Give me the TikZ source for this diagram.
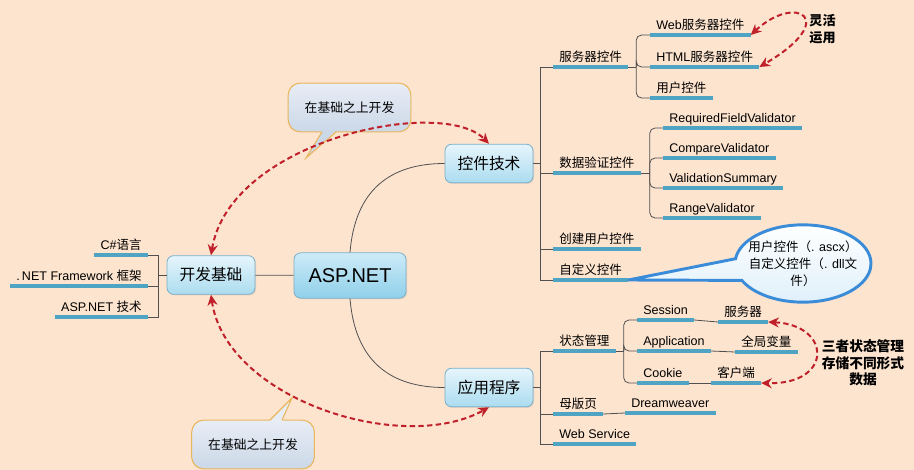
\documentclass[tikz,border=0pt]{standalone}
\usepackage{fontspec}
\setmainfont{Liberation Sans}
\newfontfamily\zhfont{Noto Sans CJK SC}
\usetikzlibrary{arrows.meta,shapes.callouts,shadows}

% chinese characters switch to the CJK font by themselves
\XeTeXinterchartokenstate=1
\newXeTeXintercharclass\zhclass
\newcount\zhc
\zhc="3000 \loop \XeTeXcharclass\zhc=\zhclass \ifnum\zhc<"303F \advance\zhc by 1 \repeat
\zhc="4E00 \loop \XeTeXcharclass\zhc=\zhclass \ifnum\zhc<"9FFF \advance\zhc by 1 \repeat
\zhc="FF00 \loop \XeTeXcharclass\zhc=\zhclass \ifnum\zhc<"FFEF \advance\zhc by 1 \repeat
\XeTeXinterchartoks 0 \zhclass = {\begingroup\zhfont}
\XeTeXinterchartoks 4095 \zhclass = {\begingroup\zhfont}
\XeTeXinterchartoks \zhclass 0 = {\endgroup}
\XeTeXinterchartoks \zhclass 4095 = {\endgroup}

\definecolor{bgpeach}{HTML}{FDE4CF}
\definecolor{topictop}{HTML}{E6F5FC}
\definecolor{topicbot}{HTML}{ABDCEF}
\definecolor{topicline}{HTML}{7AAFC8}
\definecolor{roottop}{HTML}{CDEBF8}
\definecolor{rootbot}{HTML}{8FD0EA}
\definecolor{ulblue}{HTML}{4FA3C3}
\definecolor{conngray}{HTML}{505050}
\definecolor{arrowred}{HTML}{C0202A}
\definecolor{calltop}{HTML}{E8EDF5}
\definecolor{callbot}{HTML}{CBD8E8}
\definecolor{callline}{HTML}{E9B65C}
\definecolor{bubbleline}{HTML}{3A8CD8}
\definecolor{bubblebot}{HTML}{DDEFFA}

\tikzset{
topic/.style={draw=topicline, line width=0.6pt, rounded corners=5pt,
  top color=topictop, bottom color=topicbot, minimum width=66pt,
  minimum height=29pt, font=\fontsize{11.8}{13}\selectfont,
  drop shadow={opacity=0.2, shadow xshift=0.8pt, shadow yshift=-0.8pt}},
leaf/.style={font=\fontsize{9.4}{11}\selectfont, inner xsep=4.5pt,
  inner ysep=1.5pt, text height=7.5pt, text depth=2.5pt},
uline/.style={draw=ulblue, line width=2.6pt},
conn/.style={draw=conngray, line width=0.6pt},
redarrow/.style={draw=arrowred, line width=1.5pt, dash pattern=on 4pt off 2.5pt,
  {Stealth[length=8pt,width=7.5pt]}-{Stealth[length=8pt,width=7.5pt]}},
callbox/.style={draw=callline, line width=0.8pt, rounded corners=9pt,
  top color=calltop, bottom color=callbot, minimum width=92pt,
  minimum height=36.5pt, font=\fontsize{9.6}{11}\selectfont},
note/.style={font=\bfseries\fontsize{9.8}{12.5}\selectfont, align=center}
}

\begin{document}
\begin{tikzpicture}[x=0.75pt,y=-0.75pt]
\useasboundingbox (0,0) rectangle (914,470);
\fill[bgpeach] (0,0) rectangle (914,470);

% topics
\node[topic] (kfjc) at (211,275) {开发基础};
\node[topic, minimum width=84pt, minimum height=34pt, top color=roottop,
  bottom color=rootbot, font=\fontsize{15}{17}\selectfont] (asp) at (350,275.5) {ASP.NET};
\node[topic] (kjjs) at (489,163.5) {控件技术};
\node[topic] (yycx) at (489,387.5) {应用程序};

% leaves
\node[leaf, anchor=south east] (csharp) at (148,255) {C\#语言};
\node[leaf, anchor=south east] (netfw) at (148,286) {.\,NET Framework 框架};
\node[leaf, anchor=south east] (aspjs) at (148,317) {ASP.NET 技术};

\node[leaf, anchor=south west] (fwqkj) at (553,67) {服务器控件};
\node[leaf, anchor=south west] (web) at (650,35) {Web服务器控件};
\node[leaf, anchor=south west] (html) at (650,67) {HTML服务器控件};
\node[leaf, anchor=south west] (yhkj) at (650,98) {用户控件};
\node[leaf, anchor=south west] (sjyz) at (553,173) {数据验证控件};
\node[leaf, anchor=south west] (rfv) at (663,128) {RequiredFieldValidator};
\node[leaf, anchor=south west] (cv) at (663,158) {CompareValidator};
\node[leaf, anchor=south west] (vs) at (663,188) {ValidationSummary};
\node[leaf, anchor=south west] (rv) at (663,218) {RangeValidator};
\node[leaf, anchor=south west] (cjyh) at (553,249) {创建用户控件};
\node[leaf, anchor=south west] (zdy) at (553,280) {自定义控件};

\node[leaf, anchor=south west] (ztgl) at (553,351) {状态管理};
\node[leaf, anchor=south west] (session) at (637,320) {Session};
\node[leaf, anchor=south west] (fwq) at (718,322) {服务器};
\node[leaf, anchor=south west] (app) at (637,351) {Application};
\node[leaf, anchor=south west] (qjbl) at (735,352) {全局变量};
\node[leaf, anchor=south west] (cookie) at (637,383) {Cookie};
\node[leaf, anchor=south west] (khd) at (711,383) {客户端};
\node[leaf, anchor=south west] (mbym) at (553,414) {母版页};
\node[leaf, anchor=south west] (dw) at (625,413) {Dreamweaver};
\node[leaf, anchor=south west] (ws) at (553,444) {Web Service};

% connectors
\draw[conn] (kfjc) -- (asp);
\draw[conn] (kfjc.west) -- ++(-8,0) coordinate (b0);
\foreach \n in {csharp,netfw,aspjs}
  \draw[conn] (b0) |- (\n.south east);
\draw[conn] (asp.north) .. controls +(5,-62) and +(-55,0) .. (kjjs.west);
\draw[conn] (asp.south) .. controls +(5,62) and +(-55,0) .. (yycx.west);

\draw[conn] (kjjs.east) -- ++(7,0) coordinate (b1);
\foreach \n in {fwqkj,sjyz,cjyh,zdy}
  \draw[conn] (b1) |- (\n.south west);
\draw[conn] (fwqkj.south east) -- ++(8,0) coordinate (b2);
\foreach \n in {web,html,yhkj}
  \draw[conn,rounded corners=4pt] (b2) |- (\n.south west);
\draw[conn] (sjyz.south east) -- ++(9,0) coordinate (b3);
\foreach \n in {rfv,cv,vs,rv}
  \draw[conn,rounded corners=4pt] (b3) |- (\n.south west);

\draw[conn] (yycx.east) -- ++(7,0) coordinate (b5);
\foreach \n in {ztgl,mbym,ws}
  \draw[conn] (b5) |- (\n.south west);
\draw[conn] (ztgl.south east) -- ++(8,0) coordinate (b4);
\foreach \n in {session,app,cookie}
  \draw[conn,rounded corners=4pt] (b4) |- (\n.south west);
\draw[conn] (session.south east) -- (fwq.south west);
\draw[conn] (app.south east) -- (qjbl.south west);
\draw[conn] (cookie.south east) -- (khd.south west);
\draw[conn] (mbym.south east) -- (dw.south west);

\foreach \n in {csharp,netfw,aspjs,fwqkj,web,html,yhkj,sjyz,rfv,cv,vs,rv,cjyh,zdy,
  ztgl,session,fwq,app,qjbl,cookie,khd,mbym,dw,ws}
  \draw[uline] (\n.south west) -- (\n.south east);

% bubble
\node[ellipse callout, callout absolute pointer={(zdy.south east)},
  callout pointer arc=33, draw=bubbleline, line width=2.2pt,
  top color=white, bottom color=bubblebot, minimum width=102pt,
  minimum height=58pt, inner xsep=-5pt, inner ysep=0pt, align=center,
  font=\fontsize{9.4}{12.75}\selectfont] (bub) at (803,263.5)
  {用户控件（. ascx）\\自定义控件（. dll文\\件）};

% callouts
\node[callbox] (cb1) at (349.5,107.5) {在基础之上开发};
\coordinate (tip1) at (306,158);
\fill[callbot] (322,131) -- (tip1) -- (336,131) -- cycle;
\draw[draw=callline, line width=0.8pt] (322,132) -- (tip1) -- (336,132);

\node[callbox] (cb2) at (253,444.5) {在基础之上开发};
\coordinate (tip2) at (292,398);
\fill[calltop] (270,421) -- (tip2) -- (282,421) -- cycle;
\draw[draw=callline, line width=0.8pt] (270,420) -- (tip2) -- (282,420);

% dashed arrows
\draw[redarrow] (kfjc.north) .. controls +(19,-115) and +(-47,-48) .. (kjjs.north);
\draw[redarrow] (kfjc.south) .. controls +(15,105) and +(-86,48) .. (yycx.south);
\draw[redarrow] (web.south east) .. controls +(45,-42) and +(82,-48) .. (html.south east);
\draw[redarrow] (fwq.south east) .. controls +(64,3) and +(72,2) .. (khd.south east);

\node[note] (lhyy) at (822.5,29) {灵活\\运用};
\node[note, font=\bfseries\fontsize{10.3}{12.4}\selectfont] (szgl) at (863,363)
  {三者状态管理\\存储不同形式\\数据};
\end{tikzpicture}
\end{document}
